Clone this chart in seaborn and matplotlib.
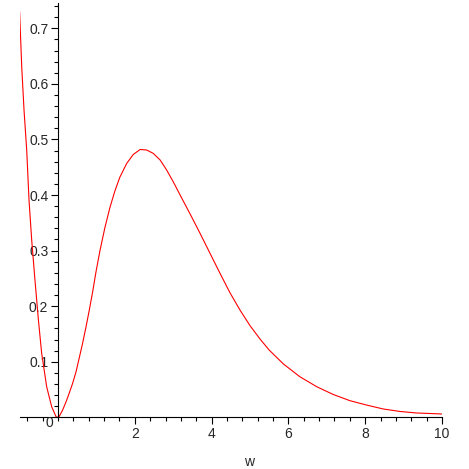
import matplotlib
matplotlib.use("Agg")
import matplotlib.pyplot as plt
import seaborn as sns
import pandas as pd
from matplotlib.ticker import MultipleLocator

# values
w = [-1.0, -0.945, -0.885, -0.815, -0.755, -0.685, -0.60, -0.51, -0.425, -0.295, -0.165, -0.05, 0.0,
     0.035, 0.12, 0.21, 0.29, 0.38, 0.47, 0.55, 0.64, 0.73, 0.815, 0.90, 0.99, 1.09, 1.22, 1.35,
     1.48, 1.61, 1.79, 1.96, 2.14, 2.31, 2.48, 2.66, 2.83, 3.00, 3.18, 3.44, 3.70, 3.96, 4.22,
     4.48, 4.74, 5.0, 5.26, 5.50, 5.87, 6.30, 6.74, 7.17, 7.6, 8.04, 8.47, 8.91, 9.34, 10.0]
f = [0.730, 0.631, 0.553, 0.481, 0.391, 0.319, 0.247, 0.175, 0.115, 0.055, 0.019, 0.001, 0.0,
     0.002, 0.013, 0.028, 0.043, 0.061, 0.082, 0.106, 0.133, 0.163, 0.193, 0.225, 0.262, 0.299, 0.341, 0.377,
     0.407, 0.432, 0.457, 0.473, 0.482, 0.481, 0.475, 0.463, 0.445, 0.424, 0.400, 0.366, 0.331, 0.295, 0.259,
     0.224, 0.193, 0.165, 0.141, 0.121, 0.096, 0.073, 0.055, 0.041, 0.030, 0.022, 0.0150, 0.0105, 0.0078, 0.006]

df = pd.DataFrame({"w": w, "f": f})

sns.set_style("white")
plt.rcParams["font.family"] = ["Liberation Sans", "DejaVu Sans"]

fig = plt.figure(figsize=(4.69, 4.69), dpi=100)
ax = fig.add_axes([0.0418, 0.1102, 0.9006, 0.8827])
sns.lineplot(data=df, x="w", y="f", color="red", linewidth=0.8, ax=ax, sort=False)

ax.set_xlim(-1, 10)
ax.set_ylim(0, 0.745)
ax.spines["top"].set_visible(False)
ax.spines["right"].set_visible(False)
ax.spines["left"].set_position(("data", 0))
ax.spines["bottom"].set_position(("data", 0))
for s in ("left", "bottom"):
    ax.spines[s].set_color("black")
    ax.spines[s].set_linewidth(0.8)

ax.xaxis.set_major_locator(MultipleLocator(2))
ax.xaxis.set_minor_locator(MultipleLocator(0.4))
ax.yaxis.set_major_locator(MultipleLocator(0.1))
ax.yaxis.set_minor_locator(MultipleLocator(0.02))
ax.tick_params(which="both", direction="out", color="black", width=0.8, labelsize=10, pad=2)
ax.tick_params(which="major", length=5)
ax.tick_params(which="minor", length=3)
ax.tick_params(axis="x", which="both", bottom=True)
ax.tick_params(axis="y", which="both", left=True)

ax.set_xticks([2, 4, 6, 8, 10])
ax.set_xticklabels(["2", "4", "6", "8", "10"])
ax.set_yticks([0.1, 0.2, 0.3, 0.4, 0.5, 0.6, 0.7])
ax.set_yticklabels(["0.1", "0.2", "0.3", "0.4", "0.5", "0.6", "0.7"])
ax.text(-0.12, -0.01, "0", ha="right", va="center", fontsize=10)

ax.set_xlabel("w", fontsize=10)
ax.set_ylabel("")
ax.xaxis.label.set_va("center")
ax.xaxis.set_label_coords(0.543, -0.109)

fig.savefig("out.png", dpi=100)
